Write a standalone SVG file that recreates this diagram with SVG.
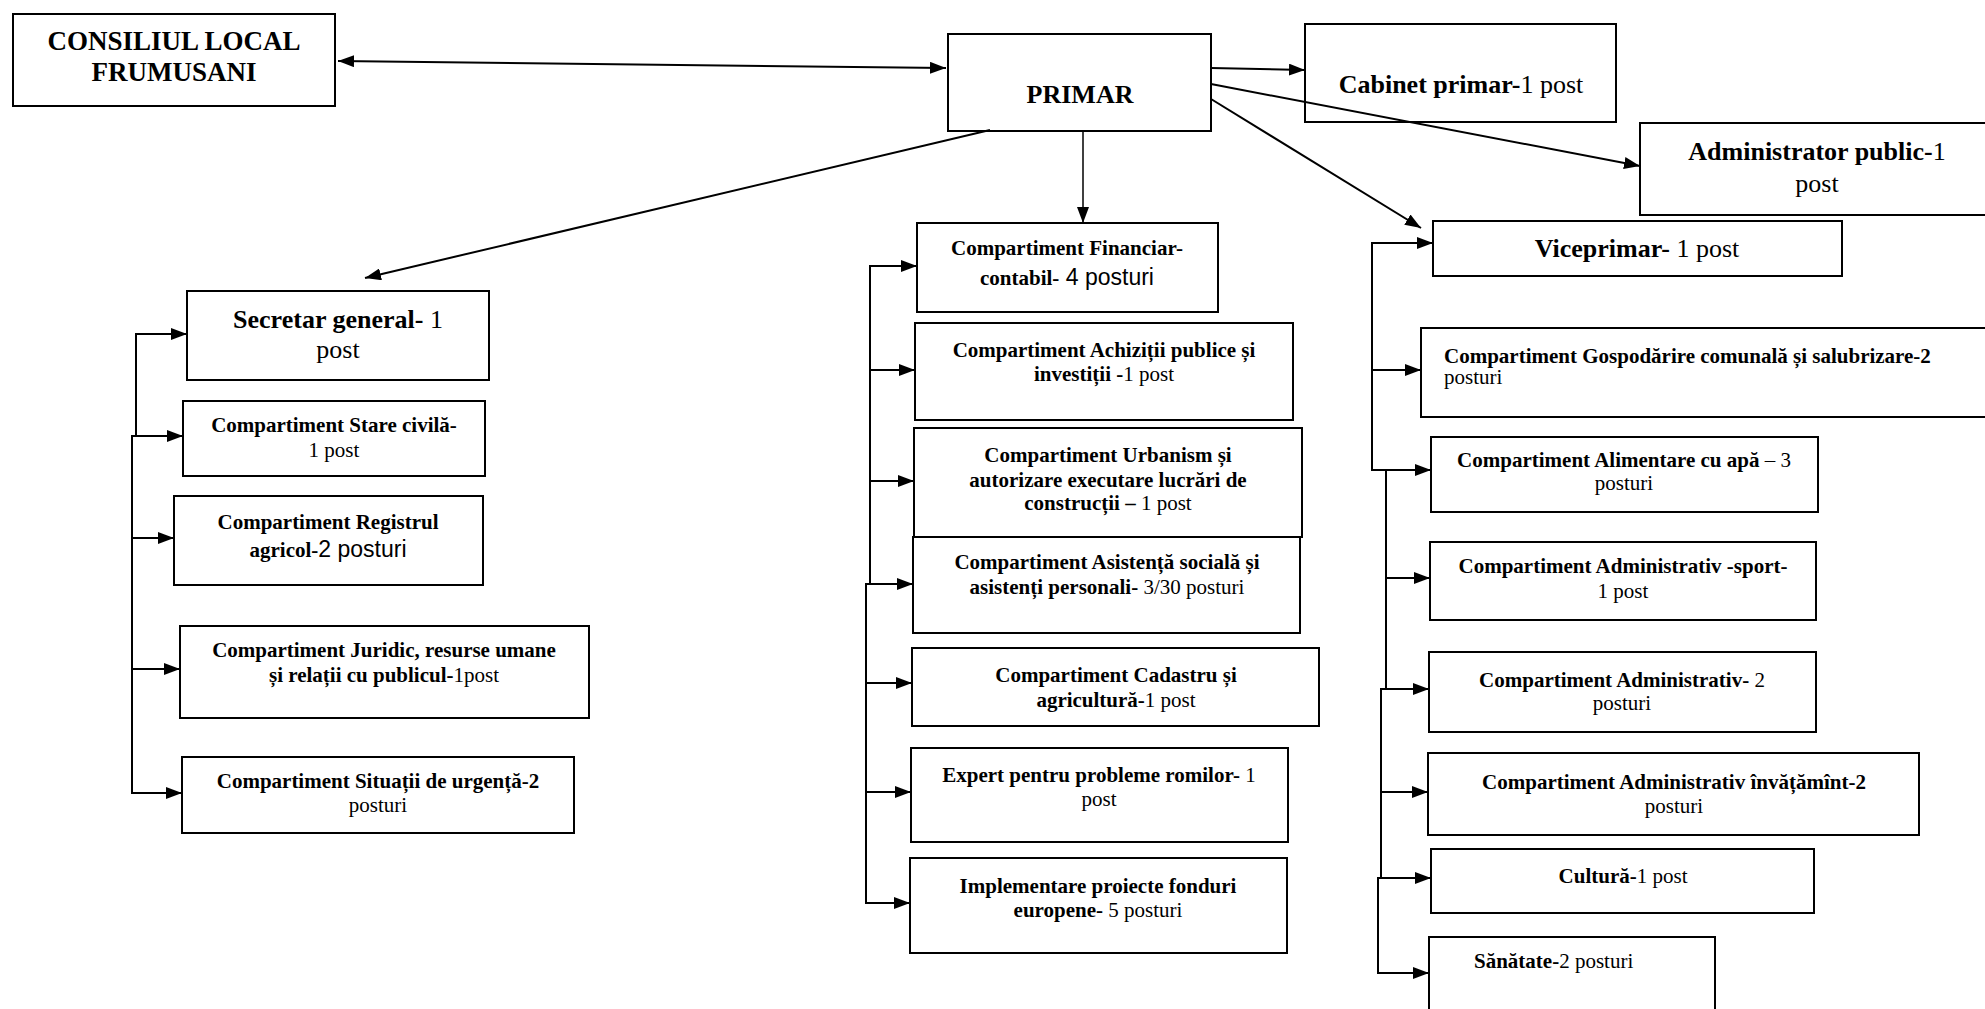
<svg xmlns="http://www.w3.org/2000/svg" width="1985" height="1009" viewBox="0 0 1985 1009">
<defs>
<marker id="ah" markerUnits="userSpaceOnUse" markerWidth="16" markerHeight="12" refX="16" refY="6" orient="auto-start-reverse">
<path d="M0,0 L16,6 L0,12 z" fill="#000"/>
</marker>
</defs>
<style>
.box{fill:none;stroke:#000;stroke-width:2}
text{font-family:"Liberation Serif","Times New Roman",serif;font-weight:bold;fill:#000}
.t26{font-size:26px}
.t27{font-size:27px}
.t21{font-size:21px}
.r{font-weight:normal}
.s{font-family:"Liberation Sans",Arial,sans-serif;font-weight:normal;font-size:23px}
.c{text-anchor:middle}
.con line,.con path{stroke:#000;stroke-width:2;fill:none}
.arr{marker-end:url(#ah)}
</style>
<rect width="1985" height="1009" fill="#fff"/>

<g class="con">
<line x1="338" y1="61" x2="946" y2="68" marker-start="url(#ah)" marker-end="url(#ah)"/>
<line class="arr" x1="1211" y1="68" x2="1305" y2="70"/>
<line class="arr" x1="1211" y1="84" x2="1640" y2="166"/>
<line class="arr" x1="1211" y1="99" x2="1421" y2="228"/>
<line class="arr" x1="1083" y1="131" x2="1083" y2="223" style="stroke-width:1.5"/>
<line class="arr" x1="990" y1="130" x2="365" y2="278"/>
<path d="M136,334 V437 M132,436 V794"/>
<line class="arr" x1="135" y1="334" x2="187" y2="334"/>
<line class="arr" x1="131" y1="436" x2="183" y2="436"/>
<line class="arr" x1="131" y1="538" x2="174" y2="538"/>
<line class="arr" x1="131" y1="669" x2="180" y2="669"/>
<line class="arr" x1="131" y1="793" x2="182" y2="793"/>
<path d="M870,266 V585 M866,584 V904"/>
<line class="arr" x1="869" y1="266" x2="917" y2="266"/>
<line class="arr" x1="869" y1="370" x2="915" y2="370"/>
<line class="arr" x1="869" y1="481" x2="914" y2="481"/>
<line class="arr" x1="865" y1="584" x2="913" y2="584"/>
<line class="arr" x1="865" y1="683" x2="912" y2="683"/>
<line class="arr" x1="865" y1="792" x2="911" y2="792"/>
<line class="arr" x1="865" y1="903" x2="910" y2="903"/>
<path d="M1372,243 V471 M1386,470 V690 M1381,689 V879 M1378,878 V974"/>
<line class="arr" x1="1371" y1="243" x2="1433" y2="243"/>
<line class="arr" x1="1371" y1="370" x2="1421" y2="370"/>
<line class="arr" x1="1371" y1="470" x2="1431" y2="470"/>
<line class="arr" x1="1385" y1="578" x2="1430" y2="578"/>
<line class="arr" x1="1380" y1="689" x2="1429" y2="689"/>
<line class="arr" x1="1380" y1="792" x2="1428" y2="792"/>
<line class="arr" x1="1377" y1="878" x2="1431" y2="878"/>
<line class="arr" x1="1377" y1="973" x2="1429" y2="973"/>
</g>

<g id="consiliul">
<rect class="box" x="13" y="14" width="322" height="92"/>
<text class="t27 c" x="174" y="50">CONSILIUL LOCAL</text>
<text class="t27 c" x="174" y="81">FRUMUSANI</text>
</g>
<g id="primar">
<rect class="box" x="948" y="34" width="263" height="97"/>
<text class="t26 c" x="1080" y="103">PRIMAR</text>
</g>
<g id="cabinet">
<rect class="box" x="1305" y="24" width="311" height="98"/>
<text class="t26 c" x="1461" y="93">Cabinet primar-<tspan class="r">1 post</tspan></text>
</g>
<g id="administrator">
<rect class="box" x="1640" y="123" width="360" height="92"/>
<text class="t26 c" x="1817" y="160">Administrator public-<tspan class="r">1</tspan></text>
<text class="t26 c r" x="1817" y="192">post</text>
</g>
<g id="viceprimar">
<rect class="box" x="1433" y="221" width="409" height="55"/>
<text class="t26 c" x="1637" y="257">Viceprimar-<tspan class="r"> 1 post</tspan></text>
</g>

<g id="secretar">
<rect class="box" x="187" y="291" width="302" height="89"/>
<text class="t26 c" x="338" y="328">Secretar general-<tspan class="r"> 1</tspan></text>
<text class="t26 c r" x="338" y="358">post</text>
</g>
<g id="stare-civila">
<rect class="box" x="183" y="401" width="302" height="75"/>
<text class="t21 c" x="334" y="432">Compartiment Stare civilă-</text>
<text class="t21 c r" x="334" y="457">1 post</text>
</g>
<g id="registrul">
<rect class="box" x="174" y="496" width="309" height="89"/>
<text class="t21 c" x="328" y="529">Compartiment Registrul</text>
<text class="t21 c" x="328" y="557">agricol-<tspan class="s">2 posturi</tspan></text>
</g>
<g id="juridic">
<rect class="box" x="180" y="626" width="409" height="92"/>
<text class="t21 c" x="384" y="657">Compartiment Juridic, resurse umane</text>
<text class="t21 c" x="384" y="682">și relații cu publicul-<tspan class="r">1post</tspan></text>
</g>
<g id="situatii">
<rect class="box" x="182" y="757" width="392" height="76"/>
<text class="t21 c" x="378" y="788">Compartiment Situații de urgență-2</text>
<text class="t21 c r" x="378" y="812">posturi</text>
</g>

<g id="financiar">
<rect class="box" x="917" y="223" width="301" height="89"/>
<text class="t21 c" x="1067" y="255">Compartiment Financiar-</text>
<text class="t21 c" x="1067" y="285">contabil-<tspan class="s"> 4 posturi</tspan></text>
</g>
<g id="achizitii">
<rect class="box" x="915" y="323" width="378" height="97"/>
<text class="t21 c" x="1104" y="357">Compartiment Achiziții publice și</text>
<text class="t21 c" x="1104" y="381">investiții -<tspan class="r">1 post</tspan></text>
</g>
<g id="urbanism">
<rect class="box" x="914" y="428" width="388" height="109"/>
<text class="t21 c" x="1108" y="462">Compartiment Urbanism și</text>
<text class="t21 c" x="1108" y="487">autorizare executare lucrări de</text>
<text class="t21 c" x="1108" y="510">construcții –<tspan class="r"> 1 post</tspan></text>
</g>
<g id="asistenta">
<rect class="box" x="913" y="537" width="387" height="96"/>
<text class="t21 c" x="1107" y="569">Compartiment Asistență socială și</text>
<text class="t21 c" x="1107" y="594">asistenți personali-<tspan class="r"> 3/30 posturi</tspan></text>
</g>
<g id="cadastru">
<rect class="box" x="912" y="648" width="407" height="78"/>
<text class="t21 c" x="1116" y="682">Compartiment Cadastru și</text>
<text class="t21 c" x="1116" y="707">agricultură-<tspan class="r">1 post</tspan></text>
</g>
<g id="expert">
<rect class="box" x="911" y="748" width="377" height="94"/>
<text class="t21 c" x="1099" y="782">Expert pentru probleme romilor-<tspan class="r"> 1</tspan></text>
<text class="t21 c r" x="1099" y="806">post</text>
</g>
<g id="implementare">
<rect class="box" x="910" y="858" width="377" height="95"/>
<text class="t21 c" x="1098" y="893">Implementare proiecte fonduri</text>
<text class="t21 c" x="1098" y="917">europene-<tspan class="r"> 5 posturi</tspan></text>
</g>

<g id="gospodarire">
<rect class="box" x="1421" y="328" width="580" height="89"/>
<text class="t21" x="1444" y="363">Compartiment Gospodărire comunală și salubrizare-2</text>
<text class="t21 r" x="1444" y="384">posturi</text>
</g>
<g id="alimentare">
<rect class="box" x="1431" y="437" width="387" height="75"/>
<text class="t21 c" x="1624" y="467">Compartiment Alimentare cu apă<tspan class="r"> – 3</tspan></text>
<text class="t21 c r" x="1624" y="490">posturi</text>
</g>
<g id="administrativ-sport">
<rect class="box" x="1430" y="542" width="386" height="78"/>
<text class="t21 c" x="1623" y="573">Compartiment Administrativ -sport-</text>
<text class="t21 c r" x="1623" y="598">1 post</text>
</g>
<g id="administrativ">
<rect class="box" x="1429" y="652" width="387" height="80"/>
<text class="t21 c" x="1622" y="687">Compartiment Administrativ-<tspan class="r"> 2</tspan></text>
<text class="t21 c r" x="1622" y="710">posturi</text>
</g>
<g id="invatamant">
<rect class="box" x="1428" y="753" width="491" height="82"/>
<text class="t21 c" x="1674" y="789">Compartiment Administrativ învățămînt-2</text>
<text class="t21 c r" x="1674" y="813">posturi</text>
</g>
<g id="cultura">
<rect class="box" x="1431" y="849" width="383" height="64"/>
<text class="t21 c" x="1623" y="883">Cultură-<tspan class="r">1 post</tspan></text>
</g>
<g id="sanatate">
<rect class="box" x="1429" y="937" width="286" height="90"/>
<text class="t21" x="1474" y="968">Sănătate-<tspan class="r">2 posturi</tspan></text>
</g>
</svg>
